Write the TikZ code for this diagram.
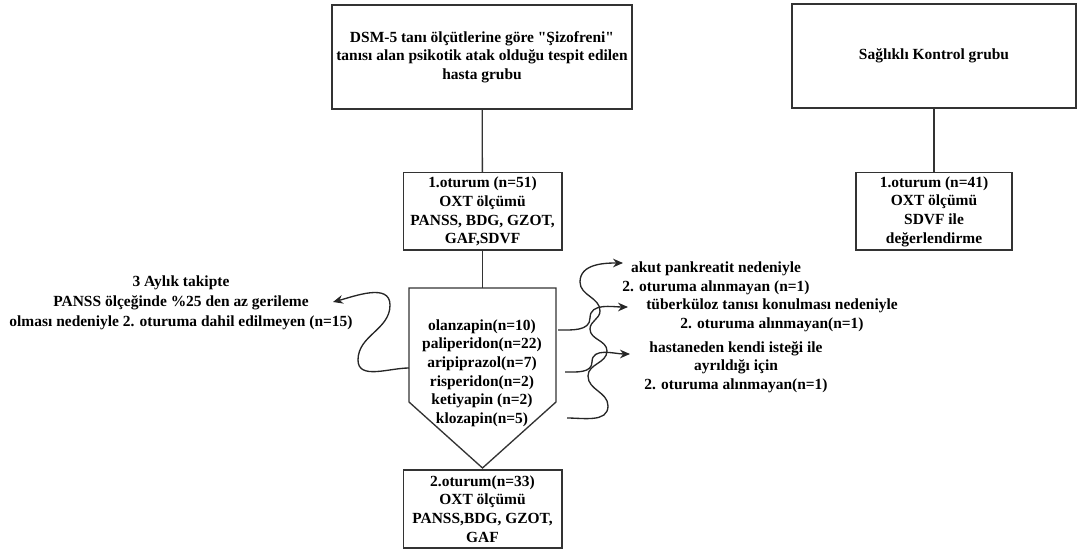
\documentclass[tikz,border=0pt]{standalone}
\usepackage{fontspec}
\setmainfont{Liberation Serif}[BoldFont={Liberation Serif Bold},Ligatures=TeXOff]
\usetikzlibrary{arrows.meta}

\begin{document}
\begin{tikzpicture}[x=0.75pt,y=-0.75pt,
        kutu/.style={draw=black!80,line width=1pt,fill=white,align=center,inner sep=2pt,
            font=\fontsize{11.6}{14}\selectfont\bfseries},
        yazi/.style={align=center,inner sep=0pt,font=\fontsize{11.6}{14}\selectfont\bfseries},
        bag/.style={draw=black!80,line width=1pt},
        ok/.style={draw=black!85,line width=1pt,-{Stealth[length=7.5pt,width=6.5pt]}}]
        \useasboundingbox (0,0) rectangle (1077,552);
        % hasta grubu
        \node[kutu,minimum width=225pt,minimum height=78pt](hasta) at (482,57)
            {DSM-5 tanı ölçütlerine göre "Şizofreni"\\tanısı alan psikotik atak olduğu tespit edilen\\hasta grubu};
        \node[kutu,minimum width=119pt,minimum height=58pt](otr1) at (482.5,211.5)
            {1.oturum (n=51)\\OXT ölçümü\\PANSS, BDG, GZOT,\\GAF,SDVF};
        \node[kutu,minimum width=119pt,minimum height=58.5pt](otr2) at (482.5,509)
            {2.oturum(n=33)\\OXT ölçümü\\PANSS,BDG, GZOT,\\GAF};
        % kontrol grubu
        \node[kutu,minimum width=213pt,minimum height=78pt](kontrol) at (934,56) {Sağlıklı Kontrol grubu};
        \node[kutu,minimum width=117pt,minimum height=58pt](otr41) at (934,211.5)
            {1.oturum (n=41)\\OXT ölçümü\\SDVF ile\\değerlendirme};
        % ilaclar
        \coordinate(pUst) at (482.5,288);
        \coordinate(pSolUst) at (409,288);
        \coordinate(pSagUst) at (556,288);
        \coordinate(pSagAlt) at (556,402);
        \coordinate(pUc) at (482.5,468);
        \coordinate(pSolAlt) at (409,402);
        \draw[bag,fill=white](pSolUst)--(pSagUst)--(pSagAlt)--(pUc)--(pSolAlt)--cycle;
        \node[yazi](ilac) at (482,373)
            {olanzapin(n=10)\\paliperidon(n=22)\\aripiprazol(n=7)\\risperidon(n=2)\\ketiyapin (n=2)\\klozapin(n=5)};
        \draw[bag](hasta)--(otr1);
        \draw[bag](otr1)--(pUst);
        \draw[bag](kontrol)--(otr41);
        % cikanlar
        \node[yazi,font=\fontsize{11.6}{15}\selectfont\bfseries](takip) at (181,303)
            {3 Aylık takipte\\PANSS ölçeğinde \%25 den az gerileme\\olması nedeniyle 2. oturuma dahil edilmeyen (n=15)};
        \node[yazi](akut) at (716,278) {akut pankreatit nedeniyle\\2. oturuma alınmayan (n=1)};
        \node[yazi](tbc) at (772,315) {tüberküloz tanısı konulması nedeniyle\\2. oturuma alınmayan(n=1)};
        \node[yazi](hastane) at (736,367) {hastaneden kendi isteği ile\\ayrıldığı için\\2. oturuma alınmayan(n=1)};
        \coordinate(sol) at (409,368);
        \coordinate(olan) at (558,330);
        \coordinate(arip) at (565,372);
        \coordinate(kloz) at (567,418);
        \coordinate(takipUc) at (333,302);
        \coordinate(akutUc) at (623,263);
        \coordinate(tbcUc) at (628,307);
        \coordinate(hastaneUc) at (630,354);
        \draw[ok](sol) to[out=180,in=-90] (358,360) to[out=90,in=-90] (390,305) to[out=90,in=15] (takipUc);
        \draw[ok](kloz) to[out=0,in=-90] (608,406) to[out=90,in=-90] (588,376) to[out=90,in=-90] (607,351)
            to[out=90,in=-90] (590,329) to[out=90,in=-90] (600,311) to[out=90,in=-90] (580,282) to[out=90,in=180] (akutUc);
        \draw[ok](olan) to[out=0,in=-90] (590,318) to[out=90,in=180] (tbcUc);
        \draw[ok](arip) to[out=0,in=-90] (592,362) to[out=90,in=180] (hastaneUc);
    \end{tikzpicture}
\end{document}
